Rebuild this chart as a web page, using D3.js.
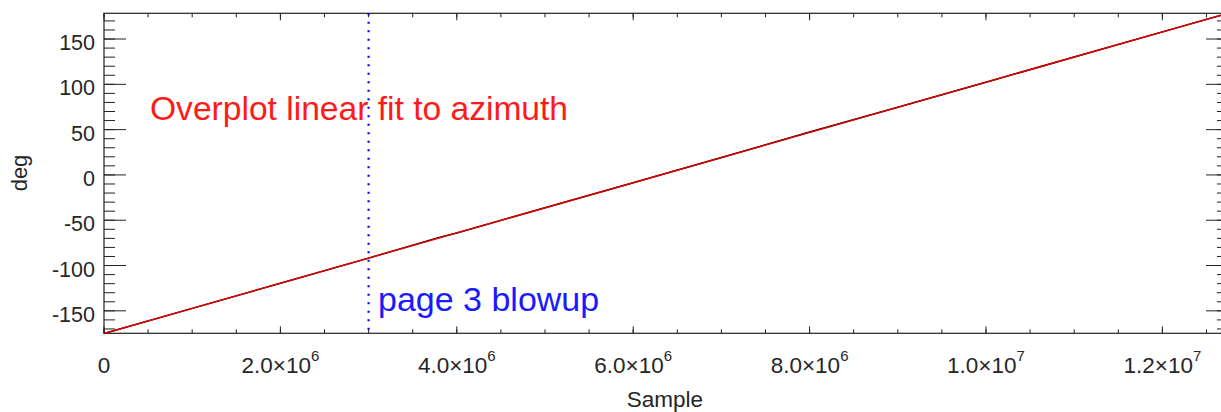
<!DOCTYPE html>
<html>
<head>
<meta charset="utf-8">
<script src="https://cdn.jsdelivr.net/npm/d3@7"></script>
<style>
  html, body { margin: 0; padding: 0; background: #fff; overflow: hidden; }
  svg { display: block; font-family: "Liberation Sans", Helvetica, Arial, sans-serif; }
</style>
</head>
<body>
<svg id="chart" width="1221" height="412"></svg>
<script>
// azimuth samples (black trace, mostly hidden under the fit)
var sampleX = [0, 1.0e6, 2.0e6, 3.0e6, 3.8e6, 4.0e6, 5.0e6, 6.0e6, 7.0e6, 8.0e6, 9.0e6, 1.0e7, 1.1e7, 1.2e7, 1.2744e7];
var azimuth = [-175.0, -147.3, -119.5, -91.8, -68.9, -64.0, -36.3, -8.6, 19.2, 47.4, 74.7, 102.4, 130.1, 157.9, 178.5];

// linear fit end points
var fitX = [0, 1.2744e7];
var fitY = [-175.0, 178.5];

var xMajor = [0, 2e6, 4e6, 6e6, 8e6, 1e7, 1.2e7];
var xLabels = [["0", ""], ["2.0\u00d710", "6"], ["4.0\u00d710", "6"], ["6.0\u00d710", "6"], ["8.0\u00d710", "6"], ["1.0\u00d710", "7"], ["1.2\u00d710", "7"]];
var yMajor = [-150, -100, -50, 0, 50, 100, 150];

var blowupX = 3.0e6;
var fitLabel = "Overplot linear fit to azimuth";
var blowupLabel = "page 3 blowup";

var pLeft = 104, pRight = 1228, pTop = 13.3, pBottom = 333.3;

var svg = d3.select("#chart");

var x = d3.scaleLinear().domain([0, 1.2744e7]).range([pLeft, pRight]);
var y = d3.scaleLinear().domain([-174.8, 178.4]).range([pBottom, pTop]);

var xMinor = d3.range(0, 1.2744e7, 5e5);
var yMinor = d3.range(-170, 180, 10);

var axisCol = "#222";

// frame
svg.append("rect")
   .attr("x", pLeft).attr("y", pTop)
   .attr("width", pRight - pLeft).attr("height", pBottom - pTop)
   .attr("fill", "none").attr("stroke", axisCol).attr("stroke-width", 1.2);

// x ticks, bottom and top
function xTicks(vals, len) {
    svg.append("g").selectAll("line").data(vals).enter().append("line")
       .attr("x1", d => x(d)).attr("x2", d => x(d))
       .attr("y1", pBottom).attr("y2", pBottom - len)
       .attr("stroke", axisCol).attr("stroke-width", 1);
    svg.append("g").selectAll("line").data(vals).enter().append("line")
       .attr("x1", d => x(d)).attr("x2", d => x(d))
       .attr("y1", pTop).attr("y2", pTop + len)
       .attr("stroke", axisCol).attr("stroke-width", 1);
}
xTicks(xMinor, 4);
xTicks(xMajor, 7);

// y ticks, left and right
function yTicks(vals, len) {
    svg.append("g").selectAll("line").data(vals).enter().append("line")
       .attr("x1", pLeft).attr("x2", pLeft + len)
       .attr("y1", d => y(d)).attr("y2", d => y(d))
       .attr("stroke", axisCol).attr("stroke-width", 1);
    svg.append("g").selectAll("line").data(vals).enter().append("line")
       .attr("x1", pRight).attr("x2", pRight - len)
       .attr("y1", d => y(d)).attr("y2", d => y(d))
       .attr("stroke", axisCol).attr("stroke-width", 1);
}
yTicks(yMinor, 11);
yTicks(yMajor, 22);

// y tick labels
svg.append("g").selectAll("text").data(yMajor).enter().append("text")
   .attr("x", 95).attr("y", d => y(d) + 11)
   .attr("text-anchor", "end")
   .style("font-size", "21.5px").style("fill", "#262626")
   .text(d => d);

// x tick labels with superscript exponent
var xl = svg.append("g").selectAll("text").data(xMajor).enter().append("text")
   .attr("x", d => x(d)).attr("y", 373)
   .attr("text-anchor", "middle")
   .style("font-size", "22.5px").style("fill", "#262626");
xl.append("tspan").text((d, i) => xLabels[i][0]);
xl.append("tspan").attr("dy", -12).style("font-size", "15px").text((d, i) => xLabels[i][1]);

// axis titles
svg.append("text")
   .attr("x", 665).attr("y", 407)
   .attr("text-anchor", "middle")
   .style("font-size", "22.5px").style("fill", "#262626")
   .text("Sample");

svg.append("text")
   .attr("transform", "translate(27,173) rotate(-90)")
   .attr("text-anchor", "middle")
   .style("font-size", "22px").style("fill", "#262626")
   .text("deg");

// azimuth trace
var line = d3.line().x(d => x(d[0])).y(d => y(d[1]));
svg.append("path")
   .datum(sampleX.map((s, i) => [s, azimuth[i]]))
   .attr("d", line)
   .attr("fill", "none").attr("stroke", "#000").attr("stroke-width", 1.5);

// fit
svg.append("path")
   .datum(fitX.map((s, i) => [s, fitY[i]]))
   .attr("d", line)
   .attr("fill", "none").attr("stroke", "#e00000").attr("stroke-width", 1.5);

// blowup marker
svg.append("line")
   .attr("x1", x(blowupX)).attr("x2", x(blowupX))
   .attr("y1", pTop).attr("y2", pBottom)
   .attr("stroke", "#0000ff").attr("stroke-width", 2.2)
   .attr("stroke-dasharray", "2 6.5");

svg.append("text")
   .attr("x", 150).attr("y", 120)
   .style("font-size", "33.6px").style("fill", "#ff1a1a")
   .text(fitLabel);

svg.append("text")
   .attr("x", 378).attr("y", 311)
   .style("font-size", "34px").style("fill", "#1a1aff")
   .text(blowupLabel);
</script>
</body>
</html>
